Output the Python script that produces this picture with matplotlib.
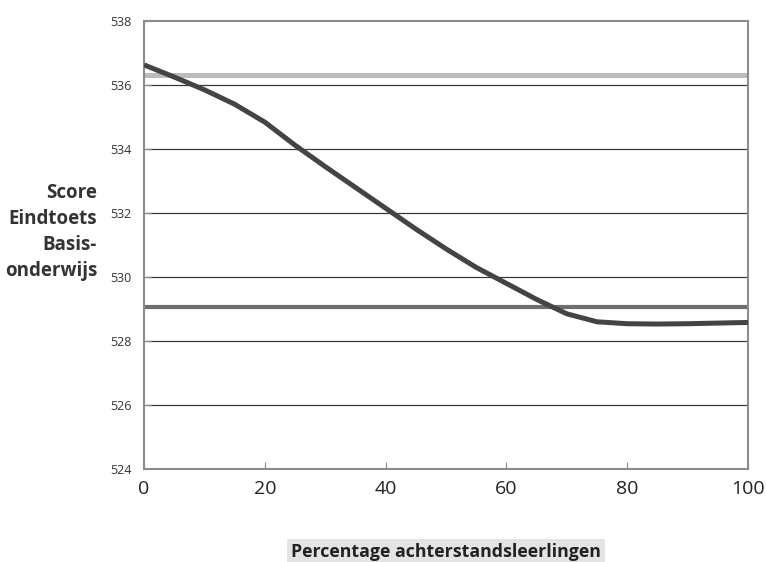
import matplotlib.pyplot as plt

plt.rcParams['font.family'] = ['Open Sans', 'DejaVu Sans']

# Percentage achterstandsleerlingen vs verwachte score
PERCENTAGES = [0, 5, 10, 15, 20, 25, 30, 35, 40, 45, 50, 55, 60, 65, 70, 75, 80, 85, 90, 95, 100]
SCORES = [536.63, 536.25, 535.85, 535.4, 534.84, 534.12, 533.45, 532.8, 532.15, 531.5,
          530.88, 530.3, 529.8, 529.3, 528.85, 528.6, 528.54, 528.53, 528.54, 528.56, 528.58]

UPPER_LEVEL = 536.31  # lichtgrijze lijn
LOWER_LEVEL = 529.06  # middengrijze lijn

Y_TICKS = [524, 526, 528, 530, 532, 534, 536, 538]
X_TICKS = [0, 20, 40, 60, 80, 100]

fig = plt.figure(figsize=(7.66, 5.62), dpi=100)
ax = fig.add_axes([0.188, 0.1655, 0.7885, 0.7971])

# horizontal grid lines
for y in Y_TICKS[1:-1]:
    ax.axhline(y, color='#3a3a3a', linewidth=0.9, zorder=1)

ax.axhline(UPPER_LEVEL, color='#bcbcbc', linewidth=3.6, zorder=2)
ax.axhline(LOWER_LEVEL, color='#6e6e6e', linewidth=3.0, zorder=2)
ax.plot(PERCENTAGES, SCORES, color='#444444', linewidth=3.6, zorder=3,
        solid_capstyle='butt')

ax.set_xlim(0, 100)
ax.set_ylim(524, 538)
ax.set_xticks(X_TICKS)
ax.set_yticks(Y_TICKS)
ax.tick_params(axis='x', direction='in', length=5, color='#888888',
               labelsize=14, pad=8, labelcolor='#222222')
ax.tick_params(axis='y', direction='in', length=5, color='#888888',
               labelsize=9, pad=9, labelcolor='#333333')

for side in ['left', 'right', 'top', 'bottom']:
    ax.spines[side].set_color('#8c8c8c')
    ax.spines[side].set_linewidth(1.5)

fig.text(97 / 766, 1 - 232 / 562, 'Score\nEindtoets\nBasis-\nonderwijs',
         ha='right', va='center', fontsize=13.5, fontweight='bold',
         color='#333333', linespacing=1.38)

fig.text(446 / 766, 1 - 552 / 562, 'Percentage achterstandsleerlingen',
         ha='center', va='center', fontsize=12.8, fontweight='bold', color='#222222',
         bbox=dict(facecolor='#e4e4e4', edgecolor='none', pad=3))

fig.savefig('out.png', dpi=100)
